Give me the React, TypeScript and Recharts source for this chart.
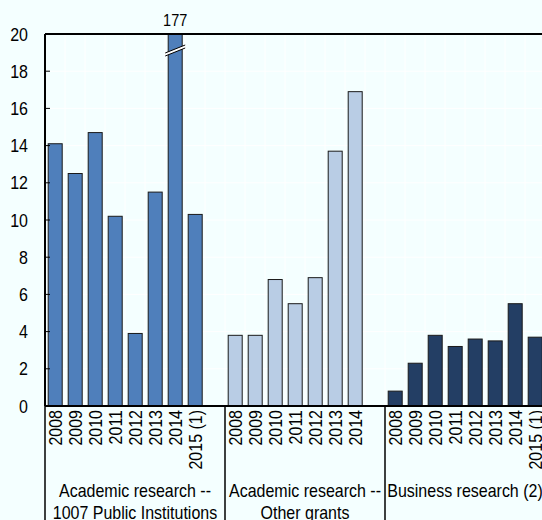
import { BarChart, Bar, XAxis, YAxis, CartesianGrid, ReferenceLine } from 'recharts';

const YMAX = 20;
const yTicks = [0, 2, 4, 6, 8, 10, 12, 14, 16, 18, 20];

const groupLabels = [
  ['Academic research --', '1007 Public Institutions'],
  ['Academic research --', 'Other grants'],
  ['Business research (2)'],
];
const groupColors = ['#4F7FBB', '#B9CDE5', '#233E64'];

const publicYears = ['2008', '2009', '2010', '2011', '2012', '2013', '2014', '2015 (1)'];
const publicValues = [14.1, 12.5, 14.7, 10.2, 3.9, 11.5, 177, 10.3];

const grantYears = ['2008', '2009', '2010', '2011', '2012', '2013', '2014'];
const grantValues = [3.8, 3.8, 6.8, 5.5, 6.9, 13.7, 16.9];

const businessYears = ['2008', '2009', '2010', '2011', '2012', '2013', '2014', '2015 (1)'];
const businessValues = [0.8, 2.3, 3.8, 3.2, 3.6, 3.5, 5.5, 3.7];

type Row = {
  key: string;
  year: string;
  group: number;
  first: boolean;
  span: number;
  shown: number | null;
  actual: number | null;
};

const groups = [
  { years: publicYears, values: publicValues, spacer: true },
  { years: grantYears, values: grantValues, spacer: true },
  { years: businessYears, values: businessValues, spacer: false },
];

const rows: Row[] = [];
groups.forEach((g, gi) => {
  const span = g.years.length + (g.spacer ? 1 : 0);
  g.years.forEach((year, i) => {
    const v = g.values[i];
    rows.push({
      key: `${gi}-${i}`,
      year,
      group: gi,
      first: i === 0,
      span,
      shown: Math.min(v, YMAX),
      actual: v,
    });
  });
  if (g.spacer) {
    rows.push({ key: `${gi}-gap`, year: '', group: gi, first: false, span, shown: null, actual: null });
  }
});

// the reference uses a narrow face; Liberation Sans stretched vertically looks close
const FONT = '"Liberation Sans", Arial, sans-serif';
const FS = 16;
const STRETCH = 1.2;

function YTick(props: any) {
  const { x, y, payload } = props;
  return (
    <g>
      <line x1={x} x2={x + 5} y1={y} y2={y} stroke="#000" strokeWidth={1} />
      <text
        transform={`translate(${x - 17} ${y}) scale(1 ${STRETCH})`}
        textAnchor="end"
        dominantBaseline="central"
        fontSize={FS}
        fontFamily={FONT}
        fill="#000"
      >
        {payload.value}
      </text>
    </g>
  );
}

function XTick(props: any) {
  const { x, y, index, payload } = props;
  const row = rows[index];
  if (!row) return <g />;
  const slot = payload && payload.offset ? payload.offset * 2 : 20;
  const ty = y + 4;
  let groupPart = null;
  if (row.first) {
    const x0 = x - slot / 2;
    const cx = x0 + (row.span * slot) / 2;
    const lines = groupLabels[row.group];
    groupPart = (
      <g>
        <line x1={x0} x2={x0} y1={y} y2={y + 120} stroke="#000" strokeWidth={1.5} />
        {lines.map((t, i) => (
          <text
            key={i}
            transform={`translate(${cx} ${y + 91 + i * 22}) scale(1 ${STRETCH})`}
            textAnchor="middle"
            fontSize={FS}
            fontFamily={FONT}
            fill="#000"
          >
            {t}
          </text>
        ))}
      </g>
    );
  }
  return (
    <g>
      {groupPart}
      <text
        transform={`translate(${x} ${ty}) rotate(-90) scale(1 ${STRETCH})`}
        textAnchor="end"
        dominantBaseline="central"
        fontSize={FS}
        fontFamily={FONT}
        fill="#000"
      >
        {row.year}
      </text>
    </g>
  );
}

function BarShape(props: any) {
  const { x, y, width, height, payload } = props;
  if (!payload || payload.shown == null || !height) return <g />;
  const fill = groupColors[payload.group];
  const broken = payload.actual > YMAX;
  const by = y + 15;
  return (
    <g>
      <rect x={x} y={y} width={width} height={height} fill={fill} stroke="#1a1a1a" strokeWidth={1} />
      {broken && (
        <g>
          <polygon
            points={`${x - 3},${by + 4} ${x + width + 3},${by - 4} ${x + width + 3},${by - 1} ${x - 3},${by + 7}`}
            fill="#fff"
          />
          <line x1={x - 3} y1={by + 4} x2={x + width + 3} y2={by - 4} stroke="#000" strokeWidth={1} />
          <line x1={x - 3} y1={by + 7} x2={x + width + 3} y2={by - 1} stroke="#000" strokeWidth={1} />
          <text
            transform={`translate(${x + width / 2} ${y - 8}) scale(1 ${STRETCH})`}
            textAnchor="middle"
            fontSize={14.5}
            fontFamily={FONT}
            fill="#000"
          >
            {payload.actual}
          </text>
        </g>
      )}
    </g>
  );
}

export default function App() {
  return (
    <div
      style={{
        position: 'fixed',
        left: 0,
        top: 0,
        width: 542,
        height: 520,
        overflow: 'hidden',
        background: '#F4FFFF',
      }}
    >
      <BarChart
        width={545}
        height={520}
        data={rows}
        margin={{ top: 34, right: 0, left: 0, bottom: 0 }}
        barCategoryGap="16%"
        style={{ fontFamily: FONT }}
      >
        <CartesianGrid
          stroke="#FFFFFF"
          strokeWidth={1}
          verticalCoordinatesGenerator={({ offset }: any) =>
            Array.from({ length: rows.length + 1 }, (_, i) => offset.left + (i * offset.width) / rows.length)
          }
        />
        <XAxis
          dataKey="key"
          height={114}
          interval={0}
          tickLine={false}
          tickSize={0}
          tickMargin={0}
          axisLine={{ stroke: '#000', strokeWidth: 2 }}
          tick={(p: any) => <XTick {...p} />}
        />
        <YAxis
          width={45}
          domain={[0, YMAX]}
          ticks={yTicks}
          interval={0}
          tickLine={false}
          tickSize={0}
          tickMargin={0}
          axisLine={{ stroke: '#000', strokeWidth: 2 }}
          tick={(p: any) => <YTick {...p} />}
        />
        <ReferenceLine y={YMAX} stroke="#000" strokeWidth={2} />
        <Bar dataKey="shown" isAnimationActive={false} shape={(p: any) => <BarShape {...p} />} />
      </BarChart>
    </div>
  );
}
